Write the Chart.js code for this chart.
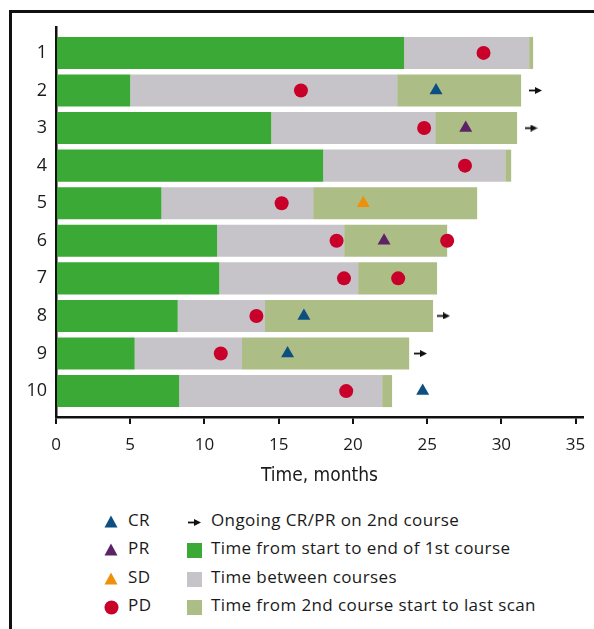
<!DOCTYPE html>
<html>
<head>
<meta charset="utf-8">
<script src="https://cdn.jsdelivr.net/npm/chart.js@4/dist/chart.umd.min.js"></script>
<style>
  html, body { margin: 0; padding: 0; background: #fff; }
  body { width: 594px; height: 629px; position: relative; overflow: hidden; font-family: "Open Sans", Lato, sans-serif; }
  .frame { position: absolute; left: 9px; top: 10px; width: 700px; height: 700px;
           border-left: 3px solid #111; border-top: 3px solid #111; }
  #wrap { position: absolute; left: 0; top: 0; width: 594px; height: 500px; }
  .legend { position: absolute; left: 0; top: 0; font-size: 17px; letter-spacing: 0.4px; color: #1a1a1a; }
  .item { position: absolute; white-space: nowrap; line-height: 20px; }
  .item svg { position: absolute; }
  .item span { position: absolute; white-space: nowrap; }
</style>
</head>
<body>
<div class="frame"></div>
<div id="wrap"><canvas id="swimmer" width="594" height="500"></canvas></div>
<div class="legend" id="legend"></div>
<script>
// patients, one bar each
const patients = [1, 2, 3, 4, 5, 6, 7, 8, 9, 10];
// months: end of 1st course, start of 2nd course, last scan
const endFirstCourse = [23.45, 5.0, 14.5, 18.0, 7.1, 10.85, 11.0, 8.2, 5.3, 8.3];
const startSecondCourse = [31.87, 22.98, 25.54, 30.26, 17.32, 19.41, 20.35, 14.08, 12.53, 21.97];
const lastScan = [32.14, 31.33, 31.06, 30.66, 28.37, 26.35, 25.67, 25.4, 23.79, 22.64];

// responses as [patient, month]
const crEvents = [[2, 25.6], [8, 16.7], [9, 15.6], [10, 24.7]];
const prEvents = [[3, 27.6], [6, 22.1]];
const sdEvents = [[5, 20.7]];
const pdEvents = [[1, 28.8], [2, 16.5], [3, 24.8], [4, 27.55], [5, 15.2], [6, 18.9], [6, 26.35],
                  [7, 19.4], [7, 23.05], [8, 13.5], [9, 11.1], [10, 19.55]];
// ongoing CR/PR on 2nd course
const ongoing = [[2, 32.3], [3, 32.0], [8, 26.1], [9, 24.55]];

const xTicks = [0, 5, 10, 15, 20, 25, 30, 35];

const GREEN = '#3aa935', GREY = '#c6c4c8', OLIVE = '#adbd86';
const BLUE = '#0e4f82', PURPLE = '#5c2366', ORANGE = '#f0900a', RED = '#c8002a';

// small right arrow used as a point style
function makeArrow() {
  const c = document.createElement('canvas');
  c.width = 13; c.height = 7;
  const g = c.getContext('2d');
  g.fillStyle = '#111';
  g.fillRect(0, 2.6, 8, 1.8);
  g.beginPath();
  g.moveTo(6, 0); g.lineTo(13, 3.5); g.lineTo(6, 7); g.closePath();
  g.fill();
  return c;
}
const arrowImg = makeArrow();

function barSet(label, color, from, to) {
  return {
    type: 'bar', label, indexAxis: 'y', grouped: false,
    backgroundColor: color, borderWidth: 0,
    barPercentage: 0.853, categoryPercentage: 1,
    data: patients.map((p, i) => ({ y: p, x: [from[i], to[i]] })),
    order: 2
  };
}
function pointSet(label, events, style, color, radius) {
  return {
    type: 'scatter', label,
    data: events.map(e => ({ x: e[1], y: e[0] })),
    pointStyle: style, pointRadius: radius, pointHoverRadius: radius,
    backgroundColor: color, borderColor: color, borderWidth: 0,
    order: 1
  };
}

const zeros = patients.map(() => 0);

new Chart(document.getElementById('swimmer'), {
  data: {
    datasets: [
      barSet('Time from start to end of 1st course', GREEN, zeros, endFirstCourse),
      barSet('Time between courses', GREY, endFirstCourse, startSecondCourse),
      barSet('Time from 2nd course start to last scan', OLIVE, startSecondCourse, lastScan),
      pointSet('PD', pdEvents, 'circle', RED, 7),
      pointSet('CR', crEvents, 'triangle', BLUE, 7.5),
      pointSet('PR', prEvents, 'triangle', PURPLE, 7.5),
      pointSet('SD', sdEvents, 'triangle', ORANGE, 7.5),
      pointSet('Ongoing CR/PR on 2nd course', ongoing, arrowImg, '#111', 6)
    ]
  },
  options: {
    responsive: false,
    animation: false,
    layout: { padding: { left: 0, right: 11, top: 27, bottom: 13 } },
    plugins: { legend: { display: false }, tooltip: { enabled: false } },
    scales: {
      x: {
        type: 'linear', min: 0, max: 35.5, offset: false,
        afterBuildTicks: s => { s.ticks = xTicks.map(v => ({ value: v })); },
        afterFit: s => { s.height = 70; s.paddingLeft = 0; s.paddingRight = 0; },
        grid: { drawOnChartArea: false, drawTicks: true, tickLength: 7, color: '#111', lineWidth: 2 },
        border: { display: true, color: '#111', width: 2.5 },
        ticks: { color: '#1a1a1a', padding: 11, font: { family: '"Open Sans"', size: 17 }, maxRotation: 0 },
        title: {
          display: true, text: 'Time, months', color: '#1a1a1a',
          font: { family: '"Liberation Sans Narrow", "DejaVu Sans Condensed", sans-serif', size: 19 },
          padding: { top: 4, bottom: 0 }
        }
      },
      y: {
        type: 'linear', reverse: true, min: 0.31, max: 10.69, offset: false,
        afterBuildTicks: s => { s.ticks = patients.map(v => ({ value: v })); },
        afterFit: s => { s.width = 56; },
        grid: { display: false, drawTicks: false },
        border: { display: true, color: '#111', width: 2.5 },
        ticks: { color: '#1a1a1a', padding: 9, font: { family: '"Open Sans"', size: 18 } }
      }
    }
  }
});

// legend below the plot
const legendLeft = [
  { icon: 'tri', color: BLUE, text: 'CR' },
  { icon: 'tri', color: PURPLE, text: 'PR' },
  { icon: 'tri', color: ORANGE, text: 'SD' },
  { icon: 'dot', color: RED, text: 'PD' }
];
const legendRight = [
  { icon: 'arrow', text: 'Ongoing CR/PR on 2nd course' },
  { icon: 'sq', color: GREEN, text: 'Time from start to end of 1st course' },
  { icon: 'sq', color: GREY, text: 'Time between courses' },
  { icon: 'sq', color: OLIVE, text: 'Time from 2nd course start to last scan' }
];
const rowY = [522, 550, 579, 607];

function iconSvg(kind, color) {
  if (kind === 'tri') return `<svg width="14" height="13" style="left:-7px;top:-7px"><polygon points="7,0.5 13.5,12.5 0.5,12.5" fill="${color}"/></svg>`;
  if (kind === 'dot') return `<svg width="15" height="15" style="left:-7.5px;top:-7.5px"><circle cx="7.5" cy="7.5" r="7" fill="${color}"/></svg>`;
  if (kind === 'sq') return `<svg width="15" height="15" style="left:0;top:-7.5px"><rect width="15" height="15" fill="${color}"/></svg>`;
  return `<svg width="13" height="7" style="left:1px;top:-3.5px"><rect x="0" y="2.6" width="8" height="1.8" fill="#111"/><polygon points="6,0 13,3.5 6,7" fill="#111"/></svg>`;
}

const legend = document.getElementById('legend');
legendLeft.forEach((r, i) => {
  legend.insertAdjacentHTML('beforeend',
    `<div class="item" style="left:111px;top:${rowY[i]}px">${iconSvg(r.icon, r.color)}<span style="left:17px;top:-12px">${r.text}</span></div>`);
});
legendRight.forEach((r, i) => {
  legend.insertAdjacentHTML('beforeend',
    `<div class="item" style="left:187px;top:${rowY[i]}px">${iconSvg(r.icon, r.color)}<span style="left:24px;top:-12px">${r.text}</span></div>`);
});
</script>
</body>
</html>
